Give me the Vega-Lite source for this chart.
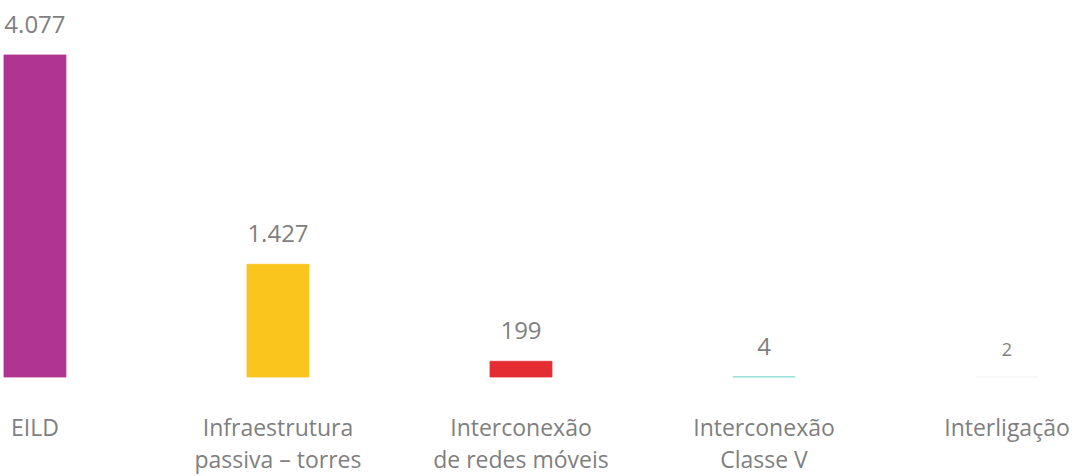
{
  "$schema": "https://vega.github.io/schema/vega-lite/v6.json",
  "width": 1087,
  "height": 377,
  "autosize": {"type": "none"},
  "padding": {"top": 0, "left": 0, "right": 0, "bottom": 99},
  "background": "white",
  "config": {
    "view": {"stroke": null},
    "locale": {"number": {"decimal": ",", "thousands": ".", "grouping": [3], "currency": ["R$", ""]}}
  },
  "data": {
    "values": [
      {"cat": "EILD", "value": 4077},
      {"cat": "Infraestrutura|passiva – torres", "value": 1427},
      {"cat": "Interconexão|de redes móveis", "value": 199},
      {"cat": "Interconexão|Classe V", "value": 4},
      {"cat": "Interligação", "value": 2}
    ]
  },
  "encoding": {
    "x": {
      "field": "cat",
      "type": "nominal",
      "sort": null,
      "scale": {"paddingInner": 0.745, "paddingOuter": 0.109, "align": 0.075},
      "axis": {
        "title": null,
        "domain": false,
        "ticks": false,
        "labelAngle": 0,
        "labelExpr": "split(datum.label, '|')",
        "labelFont": "Open Sans",
        "labelFontSize": 23,
        "labelColor": "#7f7f7f",
        "labelLineHeight": 32,
        "labelPadding": 40,
        "labelBaseline": "top",
        "labelLimit": 400
      }
    },
    "y": {
      "field": "value",
      "type": "quantitative",
      "scale": {"domain": [0, 4773], "nice": false},
      "axis": null
    }
  },
  "layer": [
    {
      "mark": {"type": "bar", "strokeWidth": 0.8},
      "encoding": {
        "color": {
          "field": "cat",
          "type": "nominal",
          "sort": null,
          "legend": null,
          "scale": {"range": ["#B03593", "#FAC51C", "#E32D33", "#8ADAD5", "#F4F4F4"]}
        },
        "stroke": {
          "field": "cat",
          "type": "nominal",
          "sort": null,
          "legend": null,
          "scale": {"range": ["#B03593", "#FAC51C", "#E32D33", "#8ADAD5", "#F4F4F4"]}
        }
      }
    },
    {
      "mark": {"type": "text", "baseline": "bottom", "dy": -17, "font": "Open Sans", "fill": "#7f7f7f"},
      "encoding": {
        "text": {"field": "value", "type": "quantitative", "format": ",d"},
        "size": {"condition": {"test": "datum.value < 3", "value": 18}, "value": 24},
        "yOffset": {"condition": {"test": "datum.value < 3", "value": -6}, "value": 0}
      }
    }
  ]
}
